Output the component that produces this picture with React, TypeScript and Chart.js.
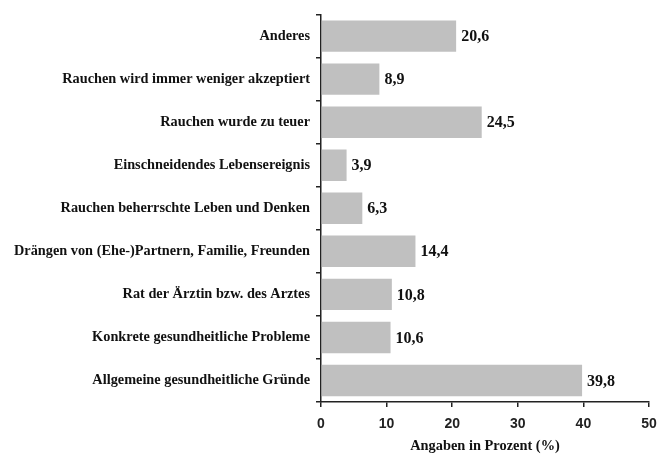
import React, { useEffect, useRef } from "react";
import { Chart, registerables } from "chart.js";

Chart.register(...registerables);

const categories = [
  "Anderes",
  "Rauchen wird immer weniger akzeptiert",
  "Rauchen wurde zu teuer",
  "Einschneidendes Lebensereignis",
  "Rauchen beherrschte Leben und Denken",
  "Drängen von (Ehe-)Partnern, Familie, Freunden",
  "Rat der Ärztin bzw. des Arztes",
  "Konkrete gesundheitliche Probleme",
  "Allgemeine gesundheitliche Gründe",
];
const values = [20.6, 8.9, 24.5, 3.9, 6.3, 14.4, 10.8, 10.6, 39.8];
const xTicks = [0, 10, 20, 30, 40, 50];
const axisTitle = "Angaben in Prozent (%)";

const serif = "'Liberation Serif', 'Times New Roman', serif";

const valueLabels = {
  id: "valueLabels",
  afterDatasetsDraw(chart: any) {
    const ctx = chart.ctx;
    const meta = chart.getDatasetMeta(0);
    ctx.save();
    ctx.font = `bold 16px ${serif}`;
    ctx.fillStyle = "#111";
    ctx.textAlign = "left";
    ctx.textBaseline = "middle";
    meta.data.forEach((bar: any, i: number) => {
      const v = chart.data.datasets[0].data[i] as number;
      ctx.fillText(v.toFixed(1).replace(".", ","), bar.x + 5, bar.y + 1);
    });
    ctx.restore();
  },
};

export default function App() {
  const ref = useRef<HTMLCanvasElement>(null);
  useEffect(() => {
    document.body.style.margin = "0";
    const chart = new Chart(ref.current!, {
      type: "bar",
      data: {
        labels: categories,
        datasets: [
          {
            data: values,
            backgroundColor: "#c0c0c0",
            borderWidth: 0,
            barPercentage: 0.73,
            categoryPercentage: 1,
          },
        ],
      },
      options: {
        indexAxis: "y",
        animation: false,
        responsive: false,
        layout: { padding: { top: 10, right: 21, left: 0, bottom: 0 } },
        plugins: { legend: { display: false }, tooltip: { enabled: false } },
        scales: {
          x: {
            min: 0,
            max: 50,
            afterBuildTicks: (s: any) => {
              s.ticks = xTicks.map((v) => ({ value: v }));
            },
            afterFit: (s: any) => {
              s.height = 53;
            },
            grid: {
              drawOnChartArea: false,
              drawTicks: true,
              tickLength: 5,
              color: "#222",
              lineWidth: 1.5,
            },
            border: { display: true, color: "#222", width: 1.5 },
            ticks: {
              color: "#222",
              padding: 9,
              font: { family: "'Liberation Sans', Arial, sans-serif", weight: "bold", size: 14 },
            },
            title: {
              display: true,
              text: axisTitle,
              color: "#111",
              padding: { top: 2, bottom: 0 },
              font: { family: serif, weight: "bold", size: 14.4 },
            },
          },
          y: {
            afterFit: (s: any) => {
              s.width = 321;
            },
            grid: {
              drawOnChartArea: false,
              drawTicks: true,
              tickLength: 5,
              offset: true,
              color: "#222",
              lineWidth: 1.5,
            },
            border: { display: true, color: "#222", width: 1.5 },
            ticks: {
              color: "#111",
              padding: 6,
              font: { family: serif, weight: "bold", size: 14.3 },
            },
          },
        },
      },
      plugins: [valueLabels],
    });
    return () => chart.destroy();
  }, []);
  return (
    <div style={{ width: 670, height: 455 }}>
      <canvas ref={ref} width={670} height={455} style={{ display: "block" }} />
    </div>
  );
}
